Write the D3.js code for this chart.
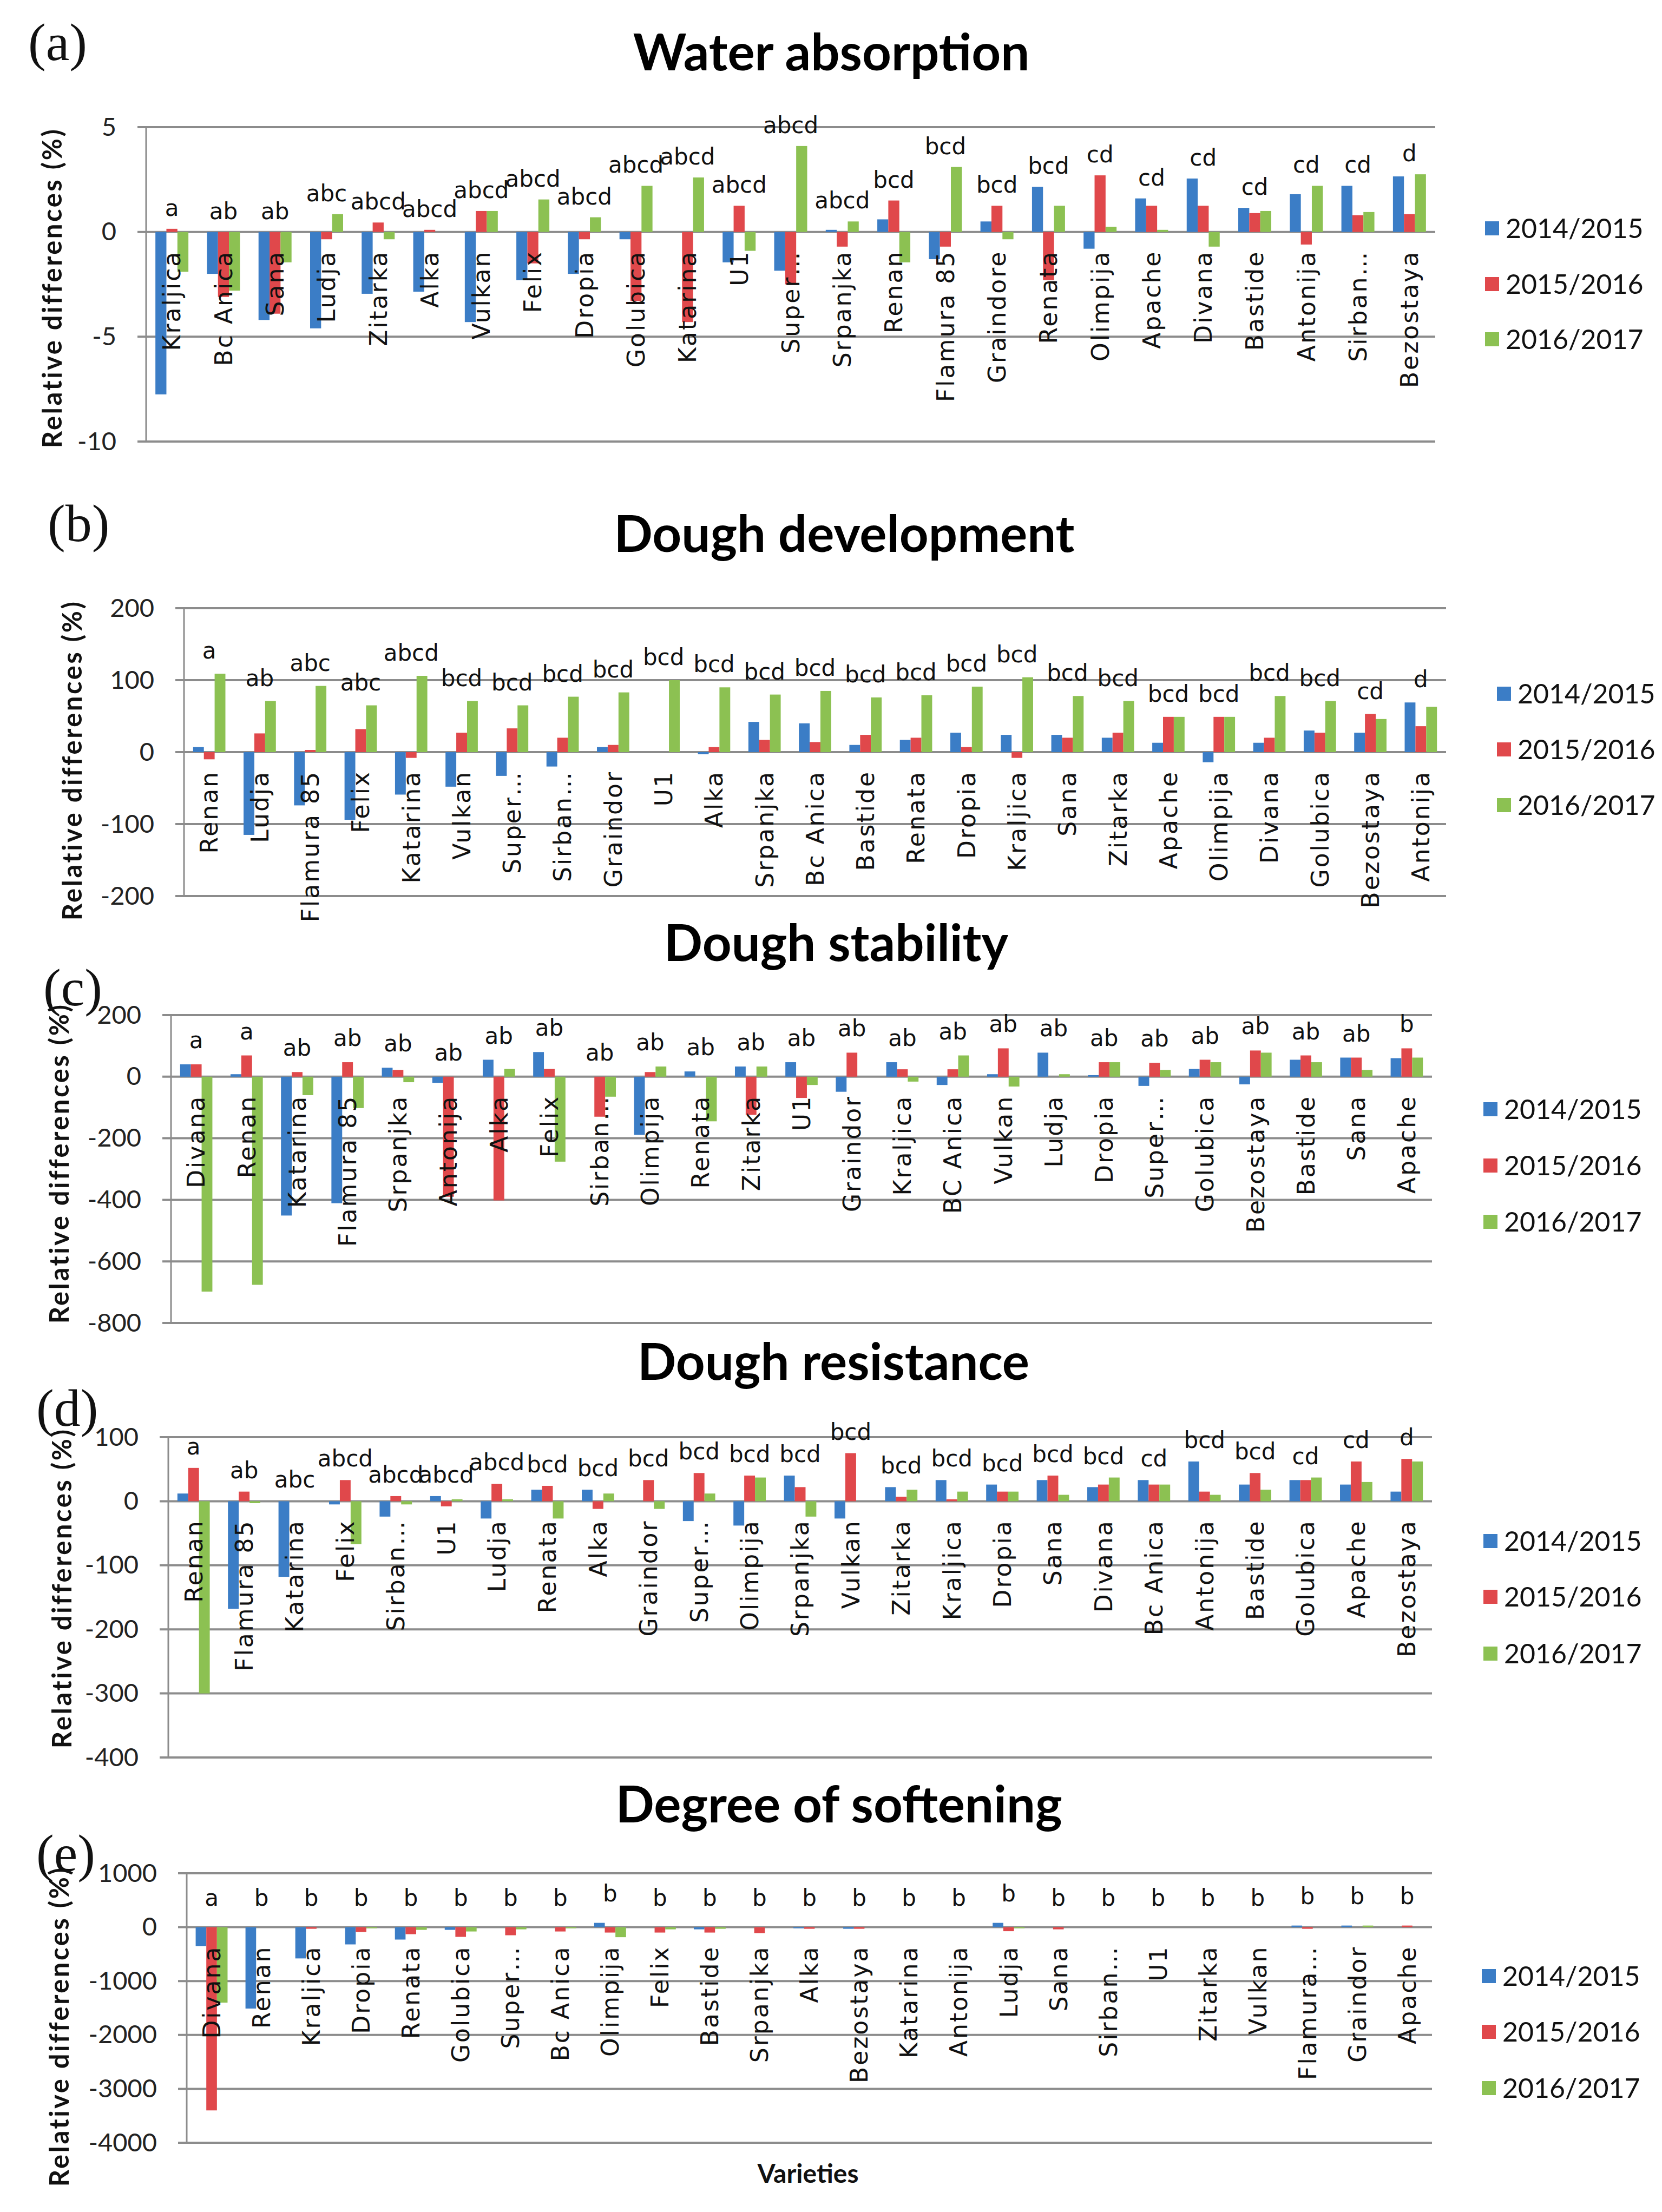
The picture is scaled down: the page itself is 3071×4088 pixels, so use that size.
<!DOCTYPE html>
<html>
<head>
<meta charset="utf-8">
<script src="https://cdn.jsdelivr.net/npm/d3@7"></script>
<style>
  body { margin: 0; background: #fff; }
</style>
</head>
<body>
<div id="chart"></div>
<script>
var seriesNames = ["2014/2015", "2015/2016", "2016/2017"];
var seriesColors = ["#3b7dc6", "#e0484b", "#8cc152"];

// (a) Water absorption
var waterCats = ["Kraljica", "Bc Anica", "Sana", "Ludja", "Zitarka", "Alka", "Vulkan", "Felix", "Dropia", "Golubica", "Katarina", "U1", "Super…", "Srpanjka", "Renan", "Flamura 85", "Graindore", "Renata", "Olimpija", "Apache", "Divana", "Bastide", "Antonija", "Sirban…", "Bezostaya"];
var waterS1 = [-7.75, -2.0, -4.2, -4.6, -2.95, -2.85, -4.3, -2.3, -2.0, -0.35, 0, -1.45, -1.85, 0.1, 0.6, -1.3, 0.5, 2.15, -0.8, 1.6, 2.55, 1.15, 1.8, 2.2, 2.65];
var waterS2 = [0.15, -3.1, -3.9, -0.35, 0.45, 0.1, 1.0, -1.5, -0.35, -3.3, -4.3, 1.25, -2.5, -0.7, 1.5, -0.7, 1.25, -2.3, 2.7, 1.25, 1.25, 0.9, -0.6, 0.8, 0.85];
var waterS3 = [-1.9, -2.8, -1.45, 0.85, -0.35, 0, 1.0, 1.55, 0.7, 2.2, 2.6, -0.9, 4.1, 0.5, -1.45, 3.1, -0.35, 1.25, 0.25, 0.1, -0.7, 1.0, 2.2, 0.95, 2.75];
var waterLetters = ["a", "ab", "ab", "abc", "abcd", "abcd", "abcd", "abcd", "abcd", "abcd", "abcd", "abcd", "abcd", "abcd", "bcd", "bcd", "bcd", "bcd", "cd", "cd", "cd", "cd", "cd", "cd", "d"];
var waterTicks = [-10, -5, 0, 5];

// (b) Dough development
var devCats = ["Renan", "Ludja", "Flamura 85", "Felix", "Katarina", "Vulkan", "Super…", "Sirban…", "Graindor", "U1", "Alka", "Srpanjka", "Bc Anica", "Bastide", "Renata", "Dropia", "Kraljica", "Sana", "Zitarka", "Apache", "Olimpija", "Divana", "Golubica", "Bezostaya", "Antonija"];
var devS1 = [7, -115, -74, -94, -59, -48, -33, -20, 7, 0, -3, 42, 40, 10, 17, 27, 24, 24, 20, 13, -14, 13, 30, 27, 69];
var devS2 = [-10, 26, 3, 32, -8, 27, 33, 20, 10, 0, 7, 17, 14, 24, 20, 7, -8, 20, 27, 49, 49, 20, 27, 53, 36];
var devS3 = [109, 71, 92, 65, 106, 71, 65, 77, 83, 100, 90, 80, 85, 76, 79, 91, 104, 78, 71, 49, 49, 78, 71, 46, 63];
var devLetters = ["a", "ab", "abc", "abc", "abcd", "bcd", "bcd", "bcd", "bcd", "bcd", "bcd", "bcd", "bcd", "bcd", "bcd", "bcd", "bcd", "bcd", "bcd", "bcd", "bcd", "bcd", "bcd", "cd", "d"];
var devTicks = [-200, -100, 0, 100, 200];

// (c) Dough stability
var stabCats = ["Divana", "Renan", "Katarina", "Flamura 85", "Srpanjka", "Antonija", "Alka", "Felix", "Sirban…", "Olimpija", "Renata", "Zitarka", "U1", "Graindor", "Kraljica", "BC Anica", "Vulkan", "Ludja", "Dropia", "Super…", "Golubica", "Bezostaya", "Bastide", "Sana", "Apache"];
var stabS1 = [40, 8, -451, -411, 29, -20, 55, 80, 0, -189, 17, 33, 47, -49, 47, -27, 8, 78, 5, -30, 25, -25, 55, 62, 60];
var stabS2 = [40, 69, 15, 47, 22, -390, -402, 25, -130, 15, 0, -124, -69, 78, 24, 24, 92, 0, 47, 45, 55, 85, 69, 62, 92];
var stabS3 = [-698, -676, -60, -102, -18, 0, 25, -276, -65, 33, -145, 33, -27, 0, -16, 69, -32, 8, 47, 22, 47, 78, 47, 22, 62];
var stabLetters = ["a", "a", "ab", "ab", "ab", "ab", "ab", "ab", "ab", "ab", "ab", "ab", "ab", "ab", "ab", "ab", "ab", "ab", "ab", "ab", "ab", "ab", "ab", "ab", "b"];
var stabTicks = [-800, -600, -400, -200, 0, 200];

// (d) Dough resistance
var resCats = ["Renan", "Flamura 85", "Katarina", "Felix", "Sirban…", "U1", "Ludja", "Renata", "Alka", "Graindor", "Super…", "Olimpija", "Srpanjka", "Vulkan", "Zitarka", "Kraljica", "Dropia", "Sana", "Divana", "Bc Anica", "Antonija", "Bastide", "Golubica", "Apache", "Bezostaya"];
var resS1 = [12, -168, -118, -5, -24, 8, -27, 18, 18, 0, -31, -38, 40, -27, 22, 33, 26, 33, 22, 33, 62, 26, 33, 26, 15];
var resS2 = [52, 15, 0, 33, 8, -8, 27, 24, -12, 33, 44, 40, 22, 75, 7, 3, 15, 40, 26, 26, 15, 44, 33, 62, 66];
var resS3 = [-300, -3, 0, -67, -5, 3, 3, -27, 12, -12, 12, 37, -24, 0, 18, 15, 15, 10, 37, 26, 10, 18, 37, 30, 62];
var resLetters = ["a", "ab", "abc", "abcd", "abcd", "abcd", "abcd", "bcd", "bcd", "bcd", "bcd", "bcd", "bcd", "bcd", "bcd", "bcd", "bcd", "bcd", "bcd", "cd", "bcd", "bcd", "cd", "cd", "d"];
var resTicks = [-400, -300, -200, -100, 0, 100];

// (e) Degree of softening
var softCats = ["Divana", "Renan", "Kraljica", "Dropia", "Renata", "Golubica", "Super…", "Bc Anica", "Olimpija", "Felix", "Bastide", "Srpanjka", "Alka", "Bezostaya", "Katarina", "Antonija", "Ludja", "Sana", "Sirban…", "U1", "Zitarka", "Vulkan", "Flamura…", "Graindor", "Apache"];
var softS1 = [-350, -1510, -580, -320, -230, -50, 0, 0, 80, 0, -40, 0, -20, -30, 0, 0, 80, 0, 0, 0, 0, 0, 30, 30, 0];
var softS2 = [-3400, 0, -30, -90, -130, -180, -150, -80, -100, -100, -100, -110, -30, -30, 0, 0, -75, -40, 0, 0, 0, 0, -30, 0, 30];
var softS3 = [-1400, 0, 0, -20, -50, -80, -40, -20, -186, -40, -30, 0, 0, 0, 0, 0, -20, 0, 0, 0, 0, 0, 0, 30, 0];
var softLetters = ["a", "b", "b", "b", "b", "b", "b", "b", "b", "b", "b", "b", "b", "b", "b", "b", "b", "b", "b", "b", "b", "b", "b", "b", "b"];
var softTicks = [-4000, -3000, -2000, -1000, 0, 1000];

// layout of each panel (pixels of the 3071x4088 page)
var panels = [
  {tag: "(a)", title: "Water absorption", cats: waterCats, series: [waterS1, waterS2, waterS3], letters: waterLetters, ticks: waterTicks,
   left: 270, right: 2652, top: 235, bottom: 816, titleX: 1536, titleY: 130, tagX: 52, tagY: 111, yTitleX: 97, yTitleY: 532, legendX: 2744, legendY: [422, 525, 627], gap: 24},
  {tag: "(b)", title: "Dough development", cats: devCats, series: [devS1, devS2, devS3], letters: devLetters, ticks: devTicks,
   left: 340, right: 2672, top: 1124, bottom: 1656, titleX: 1560, titleY: 1020, tagX: 88, tagY: 1000, yTitleX: 134, yTitleY: 1405, legendX: 2766, legendY: [1282, 1385, 1488], gap: 28},
  {tag: "(c)", title: "Dough stability", cats: stabCats, series: [stabS1, stabS2, stabS3], letters: stabLetters, ticks: stabTicks,
   left: 316, right: 2646, top: 1876, bottom: 2445, titleX: 1545, titleY: 1776, tagX: 80, tagY: 1858, yTitleX: 110, yTitleY: 2150, legendX: 2741, legendY: [2050, 2154, 2258], gap: 30},
  {tag: "(d)", title: "Dough resistance", cats: resCats, series: [resS1, resS2, resS3], letters: resLetters, ticks: resTicks,
   left: 311, right: 2646, top: 2656, bottom: 3248, titleX: 1540, titleY: 2550, tagX: 67, tagY: 2635, yTitleX: 115, yTitleY: 2935, legendX: 2741, legendY: [2848, 2951, 3056], gap: 25},
  {tag: "(e)", title: "Degree of softening", cats: softCats, series: [softS1, softS2, softS3], letters: softLetters, ticks: softTicks,
   left: 345, right: 2646, top: 3462, bottom: 3960, titleX: 1550, titleY: 3368, tagX: 67, tagY: 3458, yTitleX: 110, yTitleY: 3745, legendX: 2738, legendY: [3652, 3755, 3859], gap: 40}
];

var svg = d3.select("#chart").append("svg")
  .attr("width", 3071)
  .attr("height", 4088)
  .style("background", "#fff");

var gridColor = "#8c8c8c";

function drawPanel(p) {
  var g = svg.append("g");

  var x0 = d3.scaleBand()
    .domain(p.cats)
    .range([p.left, p.right])
    .paddingInner(0.36)
    .paddingOuter(0.18);
  var x1 = d3.scaleBand()
    .domain([0, 1, 2])
    .range([0, x0.bandwidth()]);
  var y = d3.scaleLinear()
    .domain([d3.min(p.ticks), d3.max(p.ticks)])
    .range([p.bottom, p.top]);

  // gridlines (they stick out left like tick marks)
  g.selectAll(".grid").data(p.ticks).enter().append("line")
    .attr("x1", p.left - 16).attr("x2", p.right)
    .attr("y1", function(d) { return y(d); })
    .attr("y2", function(d) { return y(d); })
    .attr("stroke", gridColor)
    .attr("stroke-width", 4);

  g.append("line")
    .attr("x1", p.left).attr("x2", p.left)
    .attr("y1", p.top).attr("y2", p.bottom)
    .attr("stroke", gridColor)
    .attr("stroke-width", 3);

  // y axis labels
  var axis = g.append("g")
    .attr("transform", "translate(" + p.left + ",0)")
    .call(d3.axisLeft(y).tickValues(p.ticks).tickSize(0).tickPadding(55).tickFormat(function(d) { return String(d); }));
  axis.select(".domain").remove();
  axis.selectAll("text")
    .style("font-family", "Lato, 'Open Sans', sans-serif")
    .style("font-size", "47px")
    .attr("fill", "#222");

  // bars
  var rows = p.cats.map(function(c, i) {
    return {cat: c, vals: p.series.map(function(s) { return s[i]; }), letter: p.letters[i]};
  });
  var groups = g.selectAll(".grp").data(rows).enter().append("g")
    .attr("transform", function(d) { return "translate(" + x0(d.cat) + ",0)"; });
  groups.selectAll("rect")
    .data(function(d) { return d.vals.map(function(v, k) { return {k: k, v: v}; }); })
    .enter().append("rect")
    .attr("x", function(d) { return x1(d.k); })
    .attr("width", x1.bandwidth())
    .attr("y", function(d) { return y(Math.max(0, d.v)); })
    .attr("height", function(d) { return Math.abs(y(d.v) - y(0)); })
    .attr("fill", function(d) { return seriesColors[d.k]; });

  // significance letters above each group
  g.selectAll(".letter").data(rows).enter().append("text")
    .attr("x", function(d) { return x0(d.cat) + x0.bandwidth() / 2; })
    .attr("y", function(d) { return y(Math.max(0, d3.max(d.vals))) - p.gap; })
    .attr("text-anchor", "middle")
    .style("font-family", "'DejaVu Sans', sans-serif")
    .style("font-size", "42px")
    .attr("fill", "#111")
    .text(function(d) { return d.letter; });

  // category names, rotated, hanging below zero
  g.selectAll(".cat").data(p.cats).enter().append("text")
    .attr("transform", function(d) {
      return "translate(" + (x0(d) + x0.bandwidth() / 2) + "," + (y(0) + 34) + ") rotate(-90)";
    })
    .attr("text-anchor", "end")
    .attr("dy", "0.36em")
    .style("font-family", "'DejaVu Sans', sans-serif")
    .style("font-size", "44px")
    .style("letter-spacing", "3px")
    .attr("fill", "#111")
    .text(function(d) { return d; });

  // titles
  svg.append("text")
    .attr("x", p.titleX).attr("y", p.titleY)
    .attr("text-anchor", "middle")
    .style("font-family", "Lato, 'Open Sans', sans-serif")
    .style("font-weight", "bold")
    .style("font-size", "94px")
    .attr("fill", "#000")
    .text(p.title);

  svg.append("text")
    .attr("x", p.tagX).attr("y", p.tagY)
    .style("font-family", "'Liberation Serif', 'DejaVu Serif', serif")
    .style("font-size", "98px")
    .attr("fill", "#111")
    .text(p.tag);

  svg.append("text")
    .attr("transform", "translate(" + p.yTitleX + "," + p.yTitleY + ") rotate(-90)")
    .attr("text-anchor", "middle")
    .attr("dy", "0.35em")
    .style("font-family", "Lato, 'Open Sans', sans-serif")
    .style("font-weight", "bold")
    .style("font-size", "49px")
    .style("letter-spacing", "3.5px")
    .attr("fill", "#111")
    .text("Relative differences (%)");

  // legend
  var leg = svg.append("g");
  seriesNames.forEach(function(name, k) {
    leg.append("rect")
      .attr("x", p.legendX).attr("y", p.legendY[k] - 13)
      .attr("width", 26).attr("height", 26)
      .attr("fill", seriesColors[k]);
    leg.append("text")
      .attr("x", p.legendX + 38).attr("y", p.legendY[k])
      .attr("dy", "0.36em")
      .style("font-family", "Lato, 'Open Sans', sans-serif")
      .style("font-size", "50px")
      .attr("fill", "#111")
      .text(name);
  });
}

panels.forEach(drawPanel);

svg.append("text")
  .attr("x", 1493).attr("y", 4034)
  .attr("text-anchor", "middle")
  .style("font-family", "Lato, 'Open Sans', sans-serif")
  .style("font-weight", "bold")
  .style("font-size", "48px")
  .attr("fill", "#111")
  .text("Varieties");
</script>
</body>
</html>
